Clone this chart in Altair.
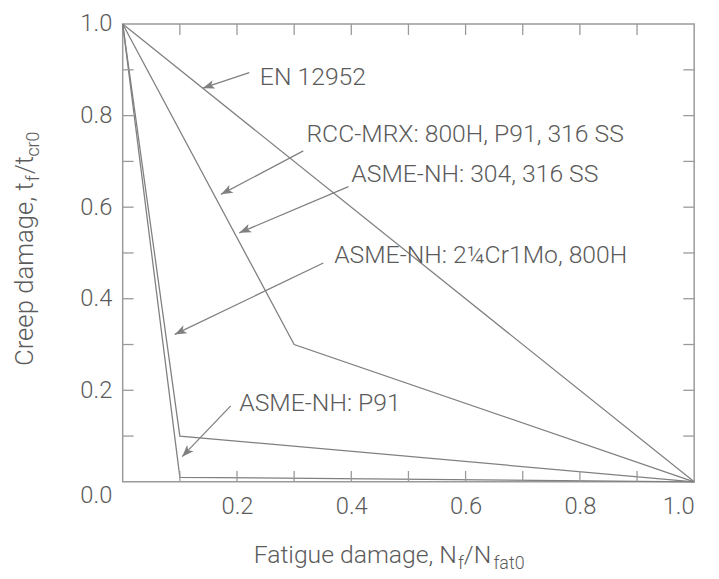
import math
import altair as alt
import pandas as pd

W, H = 578, 463
FONT = "Roboto"
TXT = "#5b5b5b"
LINE = "#808080"
AX = "#9a9a9a"

# ---- data: damage envelopes (fatigue damage x, creep damage y)
en_x = [0.0, 1.0]
en_y = [1.0, 0.0]
rcc_x = [0.0, 0.3, 1.0]
rcc_y = [1.0, 0.3, 0.0]
cr_x = [0.0, 0.1, 1.0]
cr_y = [1.0, 0.1, 0.0]
p91_x = [0.0, 0.1, 1.0]
p91_y = [1.0, 0.01, 0.0]

# ---- annotations (data coordinates)
ann_label = ["EN 12952", "RCC-MRX: 800H, P91, 316 SS", "ASME-NH: 304, 316 SS",
             "ASME-NH: 2\u00bcCr1Mo, 800H", "ASME-NH: P91"]
ann_tx = [0.240, 0.3215, 0.400, 0.370, 0.204]
ann_ty = [0.866, 0.743, 0.655, 0.477, 0.1555]
arr_x0 = [0.2215, 0.316, 0.395, 0.351, 0.189]
arr_y0 = [0.894, 0.723, 0.645, 0.478, 0.166]
arr_x1 = [0.140, 0.172, 0.204, 0.091, 0.104]
arr_y1 = [0.860, 0.628, 0.544, 0.322, 0.055]

x_label_values = [0.2, 0.4, 0.6, 0.8, 1.0]
y_label_values = [0.0, 0.2, 0.4, 0.6, 0.8, 1.0]
minor_ticks = [0.1, 0.2, 0.3, 0.4, 0.5, 0.6, 0.7, 0.8, 0.9]

rows = []
for name, xs, ys in [("EN", en_x, en_y), ("RCC", rcc_x, rcc_y),
                     ("CR", cr_x, cr_y), ("P91", p91_x, p91_y)]:
    for i, (a, b) in enumerate(zip(xs, ys)):
        rows.append({"series": name, "i": i, "x": a, "y": b})
lines_df = pd.DataFrame(rows)

ang = []
for x0, y0, x1, y1 in zip(arr_x0, arr_y0, arr_x1, arr_y1):
    dxp = (x1 - x0) * W
    dyp = -(y1 - y0) * H
    ang.append(math.degrees(math.atan2(dxp, -dyp)) % 360)
ann_df = pd.DataFrame({"label": ann_label, "tx": ann_tx, "ty": ann_ty,
                       "x0": arr_x0, "y0": arr_y0, "x1": arr_x1, "y1": arr_y1,
                       "angle": ang})
ticks_df = pd.DataFrame({"t": minor_ticks})

xs = alt.Scale(domain=[0, 1], nice=False, zero=False)
ys = alt.Scale(domain=[0, 1], nice=False, zero=False)

lines = alt.Chart(lines_df).mark_line(color=LINE, strokeWidth=1.3).encode(
    x=alt.X("x:Q", scale=xs, axis=alt.Axis(values=x_label_values, format=".1f",
                                           labelPadding=13, title=None)),
    y=alt.Y("y:Q", scale=ys, axis=alt.Axis(values=y_label_values, format=".1f",
                                           labelPadding=11, title=None,
                                           labelOffset={"condition": {"test": "datum.value === 0", "value": 14}, "value": 0})),
    detail="series:N",
    order="i:O",
)

tk = dict(color=AX, strokeWidth=1.3)
tick_b = alt.Chart(ticks_df).mark_rule(**tk).encode(
    x=alt.X("t:Q", scale=xs), y=alt.value(H), y2=alt.value(H - 11))
tick_t = alt.Chart(ticks_df).mark_rule(**tk).encode(
    x=alt.X("t:Q", scale=xs), y=alt.value(0), y2=alt.value(11))
tick_l = alt.Chart(ticks_df).mark_rule(**tk).encode(
    y=alt.Y("t:Q", scale=ys), x=alt.value(0), x2=alt.value(11))
tick_r = alt.Chart(ticks_df).mark_rule(**tk).encode(
    y=alt.Y("t:Q", scale=ys), x=alt.value(W), x2=alt.value(W - 11))

arrows = alt.Chart(ann_df).mark_rule(color=LINE, strokeWidth=1.3).encode(
    x="x0:Q", y="y0:Q", x2="x1:Q", y2="y1:Q")
heads = alt.Chart(ann_df).mark_point(
    shape="M0,0 L-0.75,2 L0,1.5 L0.75,2 Z", filled=True, size=144,
    color=LINE, opacity=1).encode(
    x="x1:Q", y="y1:Q", angle=alt.Angle("angle:Q", scale=None))
labels = alt.Chart(ann_df).mark_text(
    align="left", baseline="alphabetic", font=FONT, fontSize=25,
    fontWeight=300, color=TXT).encode(x="tx:Q", y="ty:Q", text="label:N")

# ---- axis titles with subscripts
xt_main = pd.DataFrame({"s": ["Fatigue damage, N"], "px": [338], "py": [545]})
xt_parts = pd.DataFrame({"s": ["f", "/N", "fat0"], "px": [339, 345, 375],
                         "py": [551, 545, 551], "fs": [18, 25, 18]})
yt_main = pd.DataFrame({"s": ["Creep damage, t"], "px": [-91], "py": [160]})
yt_parts = pd.DataFrame({"s": ["f", "/t", "cr0"], "px": [-85, -91, -85],
                         "py": [159, 152, 134], "fs": [18, 26, 18]})

tstyle = dict(font=FONT, fontWeight=300, color=TXT, baseline="alphabetic")
xtitle1 = alt.Chart(xt_main).mark_text(align="right", fontSize=25, **tstyle).encode(
    x=alt.X("px:Q", scale=None), y=alt.Y("py:Q", scale=None), text="s:N")
xtitle2 = alt.Chart(xt_parts).mark_text(align="left", **tstyle).encode(
    x=alt.X("px:Q", scale=None), y=alt.Y("py:Q", scale=None), text="s:N",
    size=alt.Size("fs:Q", scale=None))
ytitle1 = alt.Chart(yt_main).mark_text(align="right", fontSize=26, angle=270, **tstyle).encode(
    x=alt.X("px:Q", scale=None), y=alt.Y("py:Q", scale=None), text="s:N")
ytitle2 = alt.Chart(yt_parts).mark_text(align="left", angle=270, **tstyle).encode(
    x=alt.X("px:Q", scale=None), y=alt.Y("py:Q", scale=None), text="s:N",
    size=alt.Size("fs:Q", scale=None))

chart = alt.layer(
    lines, tick_b, tick_t, tick_l, tick_r, arrows, heads, labels,
    xtitle1, xtitle2, ytitle1, ytitle2,
).resolve_scale(x="shared", y="shared").properties(
    width=W, height=H,
    padding={"left": 116, "top": 13, "right": 17, "bottom": 95},
    autosize=alt.AutoSizeParams(type="none"),
).configure_view(stroke=AX, strokeWidth=1.5).configure_axis(
    grid=False, ticks=False, domain=False,
    labelFont=FONT, labelFontSize=24, labelFontWeight=300, labelColor=TXT,
)

chart.save("out.html", embed_options={"renderer": "svg", "actions": False})
